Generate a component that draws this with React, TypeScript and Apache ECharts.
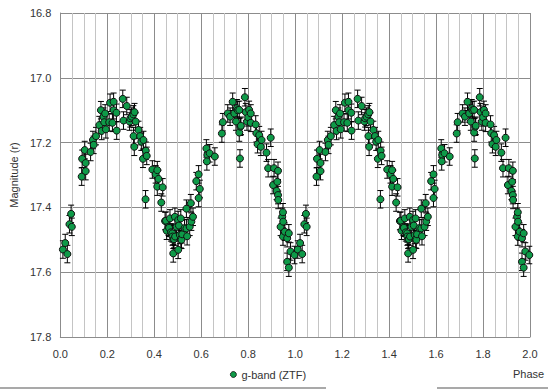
import React, { useEffect, useRef } from "react";
import * as echarts from "echarts";

// Phase-folded observations for one cycle (phase 0..1); the chart shows two cycles
const PHASE = [
  0.011, 0.021, 0.03, 0.039, 0.046, 0.049, 0.091, 0.093, 0.104, 0.108, 0.108, 0.129,
  0.139, 0.142, 0.152, 0.166, 0.173, 0.176, 0.184, 0.187, 0.191, 0.194, 0.208, 0.212,
  0.222, 0.227, 0.227, 0.239, 0.24, 0.266, 0.269, 0.283, 0.295, 0.298, 0.304, 0.311,
  0.316, 0.321, 0.312, 0.315, 0.333, 0.34, 0.345, 0.354, 0.352, 0.364, 0.368, 0.363,
  0.392, 0.406, 0.413, 0.418, 0.413, 0.436, 0.43, 0.446, 0.45, 0.453, 0.461, 0.463,
  0.467, 0.471, 0.477, 0.478, 0.481, 0.481, 0.484, 0.488, 0.489, 0.495, 0.502, 0.502,
  0.505, 0.509, 0.513, 0.513, 0.516, 0.519, 0.529, 0.537, 0.537, 0.54, 0.551, 0.556,
  0.558, 0.565, 0.579, 0.589, 0.594, 0.589, 0.622, 0.626, 0.624, 0.636, 0.658, 0.688,
  0.692, 0.713, 0.723, 0.734, 0.741, 0.748, 0.752, 0.755, 0.762, 0.765, 0.767, 0.762,
  0.769, 0.786, 0.79, 0.795, 0.8, 0.804, 0.811, 0.811, 0.832, 0.835, 0.84, 0.847,
  0.854, 0.857, 0.878, 0.885, 0.896, 0.906, 0.91, 0.921, 0.924, 0.927, 0.927, 0.928,
  0.938, 0.945, 0.948, 0.948, 0.949, 0.956, 0.966, 0.966, 0.973, 0.973, 0.98, 0.997,
];

const MAG = [
  17.53, 17.51, 17.544, 17.452, 17.42, 17.46, 17.305, 17.25, 17.223, 17.288, 17.263, 17.229,
  17.192, 17.207, 17.18, 17.146, 17.1, 17.164, 17.12, 17.137, 17.11, 17.159, 17.137, 17.077,
  17.139, 17.074, 17.1, 17.108, 17.163, 17.065, 17.132, 17.087, 17.135, 17.125, 17.12, 17.113,
  17.106, 17.135, 17.18, 17.213, 17.161, 17.18, 17.197, 17.192, 17.25, 17.225, 17.241, 17.375,
  17.283, 17.298, 17.285, 17.312, 17.336, 17.338, 17.385, 17.442, 17.441, 17.472, 17.46, 17.463,
  17.434, 17.477, 17.48, 17.49, 17.542, 17.5, 17.498, 17.429, 17.49, 17.46, 17.439, 17.531,
  17.456, 17.485, 17.434, 17.498, 17.5, 17.483, 17.464, 17.404, 17.465, 17.489, 17.46, 17.387,
  17.444, 17.429, 17.319, 17.298, 17.343, 17.371, 17.218, 17.238, 17.258, 17.233, 17.243, 17.172,
  17.137, 17.11, 17.12, 17.074, 17.11, 17.135, 17.094, 17.1, 17.169, 17.249, 17.151, 17.099,
  17.148, 17.06, 17.106, 17.135, 17.122, 17.099, 17.11, 17.139, 17.144, 17.171, 17.205, 17.177,
  17.213, 17.192, 17.231, 17.279, 17.185, 17.331, 17.279, 17.349, 17.321, 17.287, 17.362, 17.377,
  17.46, 17.429, 17.415, 17.49, 17.444, 17.475, 17.495, 17.568, 17.48, 17.586, 17.536, 17.547,
];

const MAG_ERR = 0.027;
const CYCLES = [0, 1];
const SERIES_NAME = "g-band (ZTF)";
const X_TITLE = "Phase";
const Y_TITLE = "Magnitude (r)";

const FONT = "'Liberation Sans', Arial, sans-serif";
const TEXT_COLOR = "#333333";

export default function App() {
  const ref = useRef<HTMLDivElement>(null);

  useEffect(() => {
    if (!ref.current) return;
    const chart = echarts.init(ref.current, undefined, { renderer: "svg" });

    const points: number[][] = [];
    CYCLES.forEach((c) => {
      PHASE.forEach((p, i) => {
        points.push([p + c, MAG[i], MAG_ERR]);
      });
    });

    chart.setOption({
      animation: false,
      backgroundColor: "#ffffff",
      textStyle: { fontFamily: FONT },
      grid: { left: 56, right: 18, top: 13, bottom: 52, containLabel: false },
      legend: {
        data: [SERIES_NAME],
        left: 225,
        top: 364,
        icon: "circle",
        itemWidth: 6,
        itemHeight: 6,
        itemGap: 5,
        itemStyle: { borderWidth: 0.8 },
        textStyle: { fontSize: 11, color: TEXT_COLOR, fontFamily: FONT, padding: [0, 0, 0, 0] },
      },
      xAxis: {
        type: "value",
        min: 0,
        max: 2,
        interval: 0.2,
        axisLine: { show: true, lineStyle: { color: "#8c8c8c", width: 1 } },
        axisTick: { show: false },
        axisLabel: {
          color: TEXT_COLOR,
          fontSize: 11,
          fontFamily: FONT,
          margin: 11,
          formatter: (v: number) => v.toFixed(1),
        },
        splitLine: { show: true, lineStyle: { color: "#8c8c8c", width: 1 } },
        minorTick: { show: false, splitNumber: 4 },
        minorSplitLine: { show: true, lineStyle: { color: "#c4c4c4", width: 1 } },
      },
      yAxis: {
        type: "value",
        inverse: true,
        min: 16.8,
        max: 17.8,
        interval: 0.2,
        name: Y_TITLE,
        nameLocation: "middle",
        nameGap: 39,
        nameRotate: 90,
        nameTextStyle: { color: TEXT_COLOR, fontSize: 11, fontFamily: FONT },
        axisLine: { show: true, lineStyle: { color: "#8c8c8c", width: 1 } },
        axisTick: { show: false },
        axisLabel: {
          color: TEXT_COLOR,
          fontSize: 11,
          fontFamily: FONT,
          margin: 9,
          formatter: (v: number) => v.toFixed(1),
        },
        splitLine: { show: true, lineStyle: { color: "#8c8c8c", width: 1 } },
      },
      series: [
        {
          type: "custom",
          name: "err",
          data: points,
          encode: { x: 0, y: 1 },
          z: 1,
          silent: true,
          renderItem: (_params: any, api: any) => {
            const x = api.value(0);
            const y = api.value(1);
            const e = api.value(2);
            const top = api.coord([x, y - e]);
            const bot = api.coord([x, y + e]);
            const cap = 3;
            const style = { stroke: "#000000", lineWidth: 1 };
            return {
              type: "group",
              children: [
                { type: "line", shape: { x1: top[0], y1: top[1], x2: bot[0], y2: bot[1] }, style },
                { type: "line", shape: { x1: top[0] - cap, y1: top[1], x2: top[0] + cap, y2: top[1] }, style },
                { type: "line", shape: { x1: bot[0] - cap, y1: bot[1], x2: bot[0] + cap, y2: bot[1] }, style },
              ],
            };
          },
        },
        {
          type: "scatter",
          name: SERIES_NAME,
          data: points,
          symbol: "circle",
          symbolSize: 7,
          z: 2,
          itemStyle: { color: "#0e9a48", borderColor: "#111111", borderWidth: 1, opacity: 1 },
        },
      ],
      graphic: [
        {
          type: "text",
          left: 513,
          top: 368,
          style: { text: X_TITLE, fill: TEXT_COLOR, font: `11px ${FONT}` },
        },
        {
          type: "line",
          shape: { x1: 0, y1: 388, x2: 326, y2: 388 },
          style: { stroke: "#8c8c8c", lineWidth: 1.5 },
        },
        {
          type: "line",
          shape: { x1: 437, y1: 388, x2: 548, y2: 388 },
          style: { stroke: "#8c8c8c", lineWidth: 1.5 },
        },
      ],
    });

    return () => chart.dispose();
  }, []);

  return (
    <div
      ref={ref}
      style={{ position: "fixed", left: 0, top: 0, width: 548, height: 389, background: "#fff" }}
    />
  );
}
